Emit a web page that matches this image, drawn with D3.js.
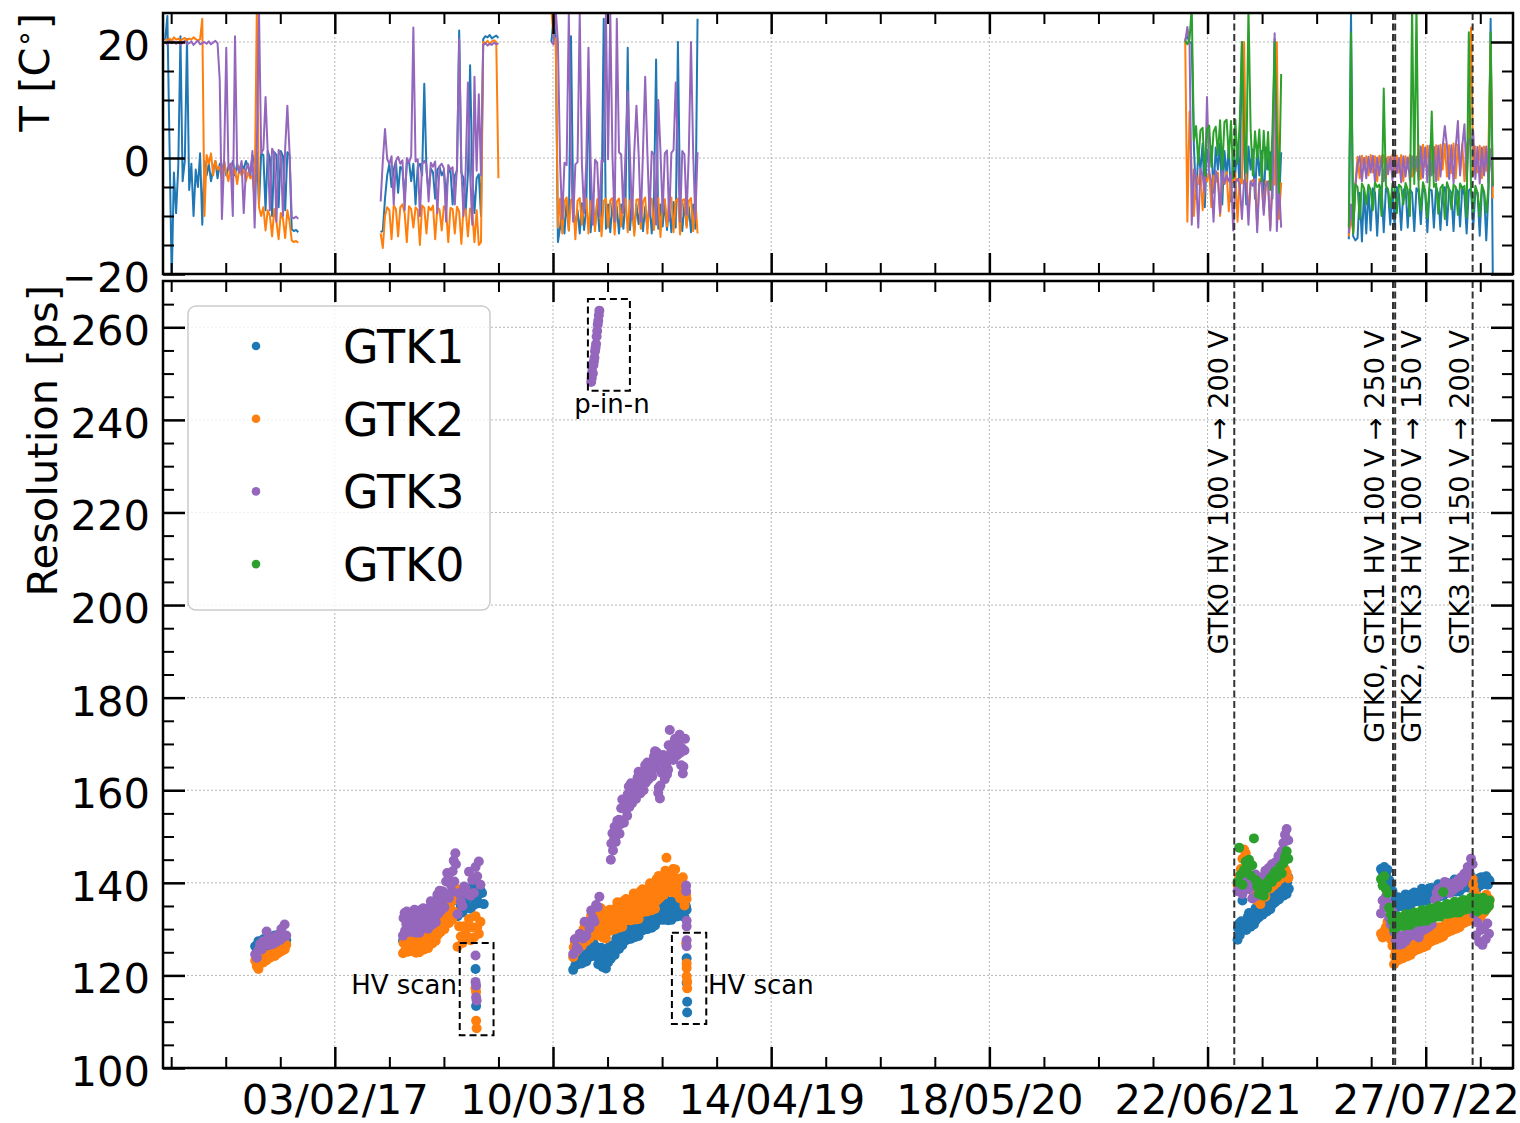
<!DOCTYPE html>
<html>
<head>
<meta charset="utf-8">
<script src="https://cdn.jsdelivr.net/npm/d3@7"></script>
<style>
  body { margin: 0; background: #fff; }
  svg { display: block; }
  text { font-family: "DejaVu Sans", sans-serif; fill: #000; }
</style>
</head>
<body>
<svg id="chart" width="1520" height="1123"></svg>
<script>
// ---------------------------------------------------------------------------
// Detectors and colours
// ---------------------------------------------------------------------------
const detectors = ["GTK1", "GTK2", "GTK3", "GTK0"];
const detectorColors = ["#1f77b4", "#ff7f0e", "#9467bd", "#2ca02c"];

// Axis ticks
const xTickDates = ["2017-02-03", "2018-03-10", "2019-04-14", "2020-05-18", "2021-06-22", "2022-07-27"];
const xTickLabels = ["03/02/17", "10/03/18", "14/04/19", "18/05/20", "22/06/21", "27/07/22"];
const tempTicks = [-20, 0, 20];
const resTicks = [100, 120, 140, 160, 180, 200, 220, 240, 260];

// ---------------------------------------------------------------------------
// Temperature logs [°C]: regularly sampled runs (start date, step in days)
// ---------------------------------------------------------------------------
const tempGTK1 = [
  { start: "2016-03-29", step: 4, values: [
    20.3, 24.5, 2, -21, -2.5, -9.5, -1.5, 21, -4, -0.5, 20.5, -5.5, -1, -10, -2,
    -5, 0.8, -11.5, -0.5, -3, -1, -4, -2, -0.5, -3.5, -1, -2.5, -0.5, -3, -1.5,
    -2, -0.5, -3, -1, -2.5, -1, -2, -0.5, -1.5, -3, 0.5, -1, 1, -8, 0.8,
    0.5, -9, 1.2, 0, -10, 1, 0.5, -8.5, 1.2, 0.3, -9, 1, 0.5, -12.3, -12.6, -12.4, -12.8] },
  { start: "2017-04-28", step: 4, values: [
    -12.8, -12.5, -7, -3, -1, -5, -2, -0.5, -6, -1.5, -2, -7, -1, -0.5, -4,
    -1, -8, -1.5, -1, -3, 12.8, -2, -6, -1.8, -2.5, -7, -2, -1.5, -3, -2.2,
    -6.5, -2.5, -2, -8, -3, -2.2, 22, -2.5, -3.5, -9, -2.8, 16, -3, -9.5, -3.5,
    -2.8, -10, 20.5, 21, 20.8, 21.2, 20.6, 20.9, 21.1, 20.7] },
  { start: "2018-03-07", step: 4, values: [
    20, 24, 21, -14.5,
    -12, -8, -13, -7.5, -12.5, 21, -8, -12, -9, -13,
    -7.8, -12.4, -8.5, 15, -12.8, -8, -11.8, -7.6, -12.6, -9,
    24, -12.2, -8, -12.8, -7.8, -11.6, -8.4, -13, -8, -12.2,
    -7.6, 19, -12.4, -8.2, -12.8, -8, -11.4, -7.8, -12.6, -8.4,
    -12, -7.6, -13, -8.2, 17, -12.2, -8, -11.8, -7.8, -12.4,
    -8.2, -12.8, -7.6, -12, 20, -8, -12.6, -7.8, -11.6, -8.4,
    -12.8, -8, -12.2, 24] },
  { start: "2021-05-12", step: 4, values: [
    20.5, 21, 19.8, 20, 2, -7, 1, -2, 2.5, -8.5, 1.5, -1, 2, -6, 1.8, -2,
    2.5, -8, 1.2, -3, 2, -7.5, 1.5, -2.5, 2.2, -6, 20, 1, -8, 2, -2,
    1.5, -7, 2, -3, 1.2, -8.5, 1.8, -2, 1, -7, 20.5, 1.5, -8, 1] },
  { start: "2022-03-08", step: 4, values: [
    -14, 25, -13.5, -14.2, -13.8, -6, -14.4, -5.5, -13, -5,
    -12.5, -5.2, -6, -13.4, -5.5, -4.8, -12.8, -5.2, -6, -11.5,
    -5.4, -11.8, -5, -6.2, -12.4, -5.6, -5, -12, -5.4, -6,
    -12.6, -5.2, -5.8, -11.4, -5, -6, -12.8, -5.4, -5.6, -12,
    -5, -6.2, -12.4, -5.6, -5, -11.6, -5.4, -6, -12.6, -5.2,
    -5.8, -11.8, -5, -6.4, -13, -5.6, -5.2, -12.2, -5.8, -6,
    -13.4, -5.4, -6, -14.2, -5.8, 24, -21] }
];

const tempGTK2 = [
  { start: "2016-03-29", step: 4, values: [
    20.5, 20.3, 20.6, 20.2, 20.8, 20.4, 20.6, 20.2, 20.5, 20.7, 20.3, 20.6, 20.4, 20.8, 20.5,
    20.2, 20.5, 24, -10, 0.5, -1, 0.8, -3, -0.5, -2, -1.5, -3.5, -0.5, -2.5, -4,
    -1, -3, -2, -4.5, -1.5, -3, -2, -4, -2.5, -3.5, -3, -7.5, 25.5, -8.5, -10,
    -8.5, -12.5, -9, -10, -13.5, -8.8, -11, -14, -9.5, -10.5, -13.8, -9, -11,
    -14.2, -14.5, -14.3, -14.6] },
  { start: "2017-04-28", step: 4, values: [
    -13, -15.5, -10, -8.5, -9, -14, -8.2, -8.8, -13.5, -8.5, -8, -9.5, -14.5, -8.3, -8.8,
    -12, -8.5, -9, -15, -8.2, -8.6, -13, -8.4, -9, -8.2, -14, -8.5, -8.9, -12.5, -8.3,
    -9, -14.5, -8.6, -8.8, -13, -8.4, -9.2, -14.8, -8.5, -9, -13.5, -8.7, -9.5, -14.5, -9,
    -15, -14.5, 20, 19.8, 20.2, 19.6, 20.1, 20.3, 20, -3.5] },
  { start: "2018-03-07", step: 4, values: [
    25.5, 21, 20.5, -12,
    -7, -13, -7.5, -6.8, -12.5, -7.2, -7, -14, -7.4, -6.9,
    -11.5, -7.3, -7, -13, -7.5, -7.1, -12.6, -7.2, -6.8, -13.5,
    -7.4, -7, -12, -7.3, -6.9, -13.2, -7.5, -7, -11.8, -7.2,
    -7, -12.8, -7.4, -6.9, -13.4, -7.2, -7.1, -12.2, -7.5, -6.8,
    -13, -7.3, -7, -12.4, -7.2, -6.9, -13.6, -7.4, -7.1, -11.8,
    -7.2, -6.8, -12.8, -7.4, -7, -13.2, -7.3, -7.1, -12, -7.4,
    -6.9, -12.6, -7.2, -13] },
  { start: "2021-05-12", step: 4, values: [
    20.5, -11, 8, -2.5, -10, -3, -4.5, -2, -9, -3.5, -4,
    -2.2, -8.5, -3, -4.2, -2.5, -10, -3.2, -4.4, -2.4, -9.2,
    -3.4, -4.2, -2.6, -11, -3.6, -4.4, 20, -3, -9.6, -4.2,
    -3.8, -4.6, -11.5, -3.6, -4.2, -9, -4, -4.8, -12, -3.8,
    -4.6, 20, -10.5, -4.2] },
  { start: "2022-03-08", step: 4, values: [
    -13.5, -10, -12.8, -4.5, 0.2, -3.5, 0.4, -2, 0.3, -3,
    0.5, -2.5, 0.3, -4, 0.4, -1.5, 0.5, -3.5, 0.2, -2,
    0.6, -3, 0.4, -2.5, 0.5, -4, 0.3, -1.8, 0.5, -3.2,
    0.4, -2.2, 2.2, -3.6, 2.3, -1.5, 2.1, -3, 2.4, -2.6,
    2.2, -3.8, 2.3, -2, 2.4, -3.2, 2.2, -2.6, 2.5, -3.5,
    2.3, -2.2, 2.4, -4, 2.2, 3.5, 22.5, -3, 2, -2.5,
    2.1, -3.5, 2, -2.2, 1.8, 20, -7] }
];

const tempGTK3 = [
  { start: "2016-03-29", step: 4, values: [
    20, 19.6, 20.2, 19.8, 20.1, 19.7, 20, 19.5, 19.9, 20.2, 19.6, 19.8, 20.1, 19.5, 19.9,
    20.2, 19.6, 19.8, 20, 19.7, 20.1, 19.6, 19.9, 20.2, 19.8, 13.5, -10.5, -0.5, 19, -2,
    -1, -10, 21, -1.5, -2.5, -0.5, -9.5, -2, -1, -3, 1.2, -12, 1.5, 25.5, 0.8,
    1.5, 10.5, 1, -9, 1.6, 0.8, -11, 1.4, 0.5, -10, 1.7, 9, 1,
    -10.2, -10.4, -10.1, -10.5] },
  { start: "2017-04-28", step: 4, values: [
    -7.5, -0.5, 5, -0.2, -1, 0.3, -8, -0.5, 0.2, -1, -0.4, -9, 0, -0.8, 0.4,
    22.5, -0.6, -0.2, -10, -1, -0.5, -1.2, -7.5, -0.8, -1.5, -0.6, -9.5, -1.4, -1, -1.8,
    -11, -1.2, -2, -1.6, -8, -1.4, 20.5, -2, -10, -1.8, 13, -2.5, -11.5, 14, -2.2,
    11, -3, 19.5, 19.8, 19.4, 19.7, 19.5, 19.9, 19.6, 19.8] },
  { start: "2018-03-07", step: 4, values: [
    20, 19.6, 25.5, 20,
    -1, -10.5, -0.8, -1.2, 25, -0.9, -11, -1.1, -0.7, 25,
    -1, -9.5, -0.6, 19, -0.5, -11.5, -0.3, -0.8, -10, -0.4,
    -0.6, 25, -0.2, 25, 0.3, -11, 24, 1, 0.6, -9.5,
    1.2, 11.5, 0.8, -10.5, 1, 9, 0.7, -11, 1.3, 14,
    0.9, -10, 1.1, 0.6, -11.5, 10, 1.2, -9.5, 0.8, 1.3,
    -10.8, 0.9, 1.4, 13, 0.7, -11, 1.2, 0.6, -9.8, 1,
    20, 0.8, -10.5, 1] },
  { start: "2021-05-12", step: 4, values: [
    20, 22.6, 19.8, -11.5, -2, -3.5, -12, -1.8, -3, -6,
    10.5, -2.5, -4, -11, -2.2, -3.8, -9.5, -2, -4.5, -3,
    -4, -2.8, -12.5, -4.2, -3.6, -4.6, -10.5, -3.8, -4.4, -11.5,
    -4, -4.8, -3.6, -12.8, -4.4, -3.8, -9.8, -4.6, -4, -12.5,
    -4.2, 21.5, -12.6, -4.4, -12] },
  { start: "2022-03-08", step: 4, values: [
    -13, -8, -12.5, -5, -1, 0.3, -4, 0, -3.5, 0.2,
    -2.5, 0.4, -4.2, 0.1, -3, 0.3, -4, 0, -2.8, 0.2,
    -3.8, 0.4, -2.6, 0, -4.2, 0.3, -3.2, 0.1, -4, 0.3,
    -2.8, 0.2, -3.8, 2, -3.4, 1.8, -4.2, 2.1, -3, 1.9,
    -4, 2.1, -3.2, 1.9, 5.5, 2, -3.6, 2.2, -4.4, 1.8,
    6.4, -3, 2.1, 5.8, -4, 3.3, 2.1, 4.7, -3.6, 1.9,
    -4.4, 1.8, -3, 2, -4.2, 1.5, -5] }
];

const tempGTK0 = [
  { start: "2021-05-12", step: 4, values: [
    20.2, 19.6, 20.5, 26, 3, 5.5, -1, 4.8, 5.2, -3,
    5, 5.6, -1.5, 4.5, 5.4, 0.5, 6.5, -2, 6.2, 6.6, 0,
    6.4, -3.5, 6.6, -1, 6.2, 20, 5, -2.5, 26,
    4.8, -3, 4.6, 0, 4.9, -4, 4.7, -2, 4.5, -5.5, 4.8,
    20, 4.5, -6, 14.5] },
  { start: "2022-03-08", step: 4, values: [
    -12, 21.5, -13, -4.5, -5, -10.5, -4.4, -5.2, -8, -4.6,
    -5.5, -9, -4.2, -5, -4.6, -10, 12, -4.8, -5.4, -8.5,
    -4.4, -5.2, -9.5, -4.6, -5, -8, -4.3, -5.5, -10, 26,
    -4.5, 26, -5, -9, -4.2, -5.6, -10.2, -4.6, 8, -5,
    -4.4, -9.6, -5.2, -4.6, -10.5, -4.2, -5.4, -8.8, -4.6, -5,
    -9.8, -4.4, -5.2, -4.8, -10.2, 21.7, -5.5, -9.2, -4.8, -6,
    -10, -4.6, -5.8, -9.4, -5, 21.7, -4.8] }
];

// ---------------------------------------------------------------------------
// Time resolution [ps]: regularly sampled runs (start date, step in days)
// ---------------------------------------------------------------------------
const resGTK1 = [
  { start: "2016-09-10", step: 3, values: [
    126.3, 125.2, 127.4, 125.8, 126.6, 127.8, 126.0, 127.2, 126.5, 128.2,
    126.8, 127.5, 128.6, 127.0, 128.0, 127.4, 128.8, 127.8, 128.4, 127.6] },
  { start: "2017-06-08", step: 3, values: [
    127.5, 129.0, 126.8, 128.3, 127.2, 129.4, 127.8, 128.6, 127.0, 129.2,
    128.0, 129.8, 127.6, 130.2, 128.6, 130.8, 129.2, 131.4, 130.0, 132.2,
    130.8, 133.0, 131.6, 134.2, 132.4, 135.0, 133.4, 136.2, 134.6, 137.4,
    136.0, 138.6, 137.4] },
  { start: "2017-09-16", step: 3, values: [
    132.8, 137.8, 135.0, 133.6, 137.2, 136.4, 134.8, 138.8, 134.4, 137.0,
    135.2, 139.2, 137.0, 135.6, 138.4, 137.8, 135.4] },
  { start: "2018-04-16", step: 3, values: [
    121.2, 124.8, 123.3, 122.4, 124.9, 124.5, 123.6, 126.6, 123.0, 125.2,
    124.0, 127.6, 125.6, 124.2, 126.2, 125.2, 123.6, 126.0, 121.8, 123.4,
    121.5, 125.6, 124.3, 123.6, 126.5, 126.4, 125.7, 129.0, 125.7, 128.0,
    126.5, 130.3, 128.7, 127.7, 130.3, 129.9, 128.9, 131.9, 128.3, 130.3,
    128.5, 132.8, 130.9, 129.8, 132.7, 132.2, 131.1, 134.4, 130.3, 132.6,
    130.8, 135.0, 133.2, 132.0, 134.8, 134.2, 133.0, 136.2, 131.9, 134.2,
    132.0, 136.1, 134.1, 132.7, 135.4, 134.9, 133.7, 136.9, 132.6, 134.8] },
  { start: "2018-04-17", step: 3, values: [
    123.9, 122.2, 125.2, 123.3, 124.1, 122.6, 125.6, 123.6, 125.3, 124.3,
    126.8, 124.4, 127.0, 124.4, 124.6, 122.4, 125.2, 122.6, 124.1, 122.8,
    124.3, 122.8, 126.3, 124.6, 125.7, 124.4, 127.9, 126.0, 128.1, 127.4,
    129.5, 127.5, 130.9, 128.8, 129.6, 127.9, 131.3, 129.0, 130.8, 129.8,
    131.6, 129.6, 133.2, 130.9, 131.8, 130.0, 133.5, 131.0, 133.0, 131.9,
    134.0, 131.9, 135.5, 133.1, 133.9, 132.0, 135.4, 132.8, 134.8, 133.6,
    135.2, 133.0, 136.5, 134.1, 134.8, 132.9, 136.2, 133.6, 135.4, 134.2] },
  { start: "2021-08-16", step: 3, values: [
    127.7, 131.2, 130.0, 136.2, 131.6, 131.5, 130.8, 133.5, 130.5, 132.5,
    131.0, 134.5, 133.3, 132.5, 134.9, 134.8, 134.1, 136.8, 133.8, 135.8,
    134.3, 137.8, 136.6, 135.8, 138.2, 138.1, 137.4, 140.1, 137.2, 139.1,
    137.6, 141.2] },
  { start: "2021-08-17", step: 3, values: [
    130.2, 128.7, 131.7, 130.1, 130.9, 129.8, 132.7, 130.9, 132.6, 131.9,
    133.5, 132.0, 135.0, 133.4, 134.2, 133.1, 136.0, 134.2, 135.9, 135.2,
    136.8, 135.3, 138.3, 136.7, 137.5, 136.4, 139.3, 137.5, 139.3, 138.5,
    140.1, 138.7] },
  { start: "2022-05-06", step: 3, values: [
    143.0, 142.4, 143.4, 141.8, 142.8, 140.6, 139.8, 138.2,
    134.2, 136.6, 135.6, 134.9, 136.6, 136.3, 135.6, 137.5,
    135.1, 136.4, 135.2, 137.6, 136.6, 136.0, 137.8, 137.4, 136.8, 138.7,
    136.1, 137.6, 136.2, 138.7, 137.6, 137.0, 138.8, 138.5, 137.8, 139.7,
    137.1, 138.6, 137.2, 139.7, 138.6, 138.0, 139.8, 139.5, 138.8, 140.7,
    138.1, 139.6, 138.2, 140.7, 139.6, 139.0, 140.8, 140.5, 139.8, 141.4,
    135.4, 138.2, 140.4, 139.2, 141.0, 139.6, 140.8, 139.8, 141.2, 140.2, 140.6] },
  { start: "2022-05-31", step: 3, values: [
    136.0, 134.8, 136.9, 135.5, 136.0, 135.0, 137.0, 135.6, 136.7, 136.0,
    137.0, 135.8, 137.9, 136.5, 137.0, 136.0, 138.0, 136.6, 137.7, 137.0,
    138.0, 136.8, 138.9, 137.5, 138.0, 137.0, 139.0, 137.6, 138.7, 138.0,
    139.0, 137.8, 139.9, 138.5, 139.0, 138.0, 140.0, 138.6, 139.7, 139.0,
    140.0, 138.8, 140.9, 139.5, 140.0, 139.0, 141.0, 139.6, 136.4, 139.8,
    138.6, 140.6, 139.4, 141.2, 139.8, 140.6, 141.4, 139.6, 140.4] }
];

const resGTK2 = [
  { start: "2016-09-10", step: 3, values: [
    123.2, 122.0, 121.4, 122.6, 123.5, 122.8, 124.0, 123.3, 124.4, 123.8,
    124.6, 125.0, 124.2, 125.3, 124.8, 125.8, 125.2, 126.2, 125.6, 126.6] },
  { start: "2017-06-08", step: 3, values: [
    124.8, 127.7, 126.3, 125.1, 127.2, 126.7, 125.8, 128.2, 124.9, 126.6,
    125.0, 128.4, 126.9, 125.6, 128.3, 127.9, 126.9, 130.4, 126.9, 129.2,
    127.5, 132.0, 130.4, 129.4, 132.7, 132.5, 131.6, 135.9, 131.3, 134.4,
    132.0, 137.9, 138.8] },
  { start: "2017-06-09", step: 3, values: [
    127.0, 125.4, 127.9, 126.2, 126.7, 125.3, 127.9, 125.9, 127.3, 126.3,
    127.8, 126.0, 128.9, 126.9, 127.5, 125.9, 129.3, 127.3, 129.4, 128.6,
    130.6, 128.8, 132.7, 130.6, 131.7, 130.0, 134.4, 131.9, 134.6, 133.5,
    136.2, 133.7, 138.7] },
  { start: "2017-09-16", step: 3, values: [
    126.2, 130.6, 128.4, 127.0, 130.6, 129.8, 128.4, 132.2, 127.6, 130.4,
    128.2, 132.8, 130.4, 129.0, 131.6] },
  { start: "2018-04-16", step: 3, values: [
    124.0, 127.3, 126.3, 125.7, 128.5, 128.4, 127.7, 131.2, 127.4, 130.0,
    128.0, 133.0, 130.5, 128.8, 132.1, 131.3, 129.7, 134.5, 128.2, 131.2,
    128.0, 133.7, 131.2, 129.7, 133.5, 132.9, 131.3, 135.8, 130.3, 133.3,
    130.5, 136.1, 133.5, 131.9, 135.7, 134.9, 133.3, 137.7, 132.1, 135.0,
    132.2, 138.1, 135.4, 133.7, 137.7, 137.0, 135.3, 139.9, 134.1, 137.2,
    134.4, 140.8, 138.2, 136.8, 141.1, 140.6, 139.1, 145.4, 138.3, 141.8,
    138.0, 143.0, 139.9, 137.7, 140.9, 139.6, 137.4, 141.2, 135.1, 137.4] },
  { start: "2018-04-17", step: 3, values: [
    126.1, 125.0, 128.0, 126.6, 127.7, 126.4, 130.0, 127.9, 130.2, 129.3,
    131.9, 129.1, 133.2, 130.2, 131.0, 128.6, 132.7, 129.4, 131.6, 129.9,
    132.2, 129.5, 134.2, 131.2, 132.3, 129.9, 134.6, 131.3, 133.9, 132.4,
    134.7, 131.9, 136.5, 133.4, 134.5, 131.9, 136.6, 133.2, 135.7, 134.1,
    136.6, 133.7, 138.6, 135.3, 136.5, 133.8, 138.8, 135.2, 137.9, 136.2,
    139.0, 136.2, 141.5, 138.4, 139.8, 137.4, 142.6, 139.2, 142.2, 140.8,
    142.2, 138.8, 142.9, 139.2, 139.7, 136.6, 140.7, 136.7, 138.7, 136.5] },
  { start: "2021-08-16", step: 3, values: [
    139.6, 141.4, 143.0, 145.2, 147.2, 146.4, 142.4, 140.2, 138.6, 140.0,
    137.8, 139.4, 136.2, 138.8, 135.4, 137.6, 139.2, 137.0, 138.6, 140.2,
    138.8, 140.6, 139.4, 141.4, 140.0, 142.0, 140.8, 142.4, 141.6, 143.0,
    142.2, 141.0] },
  { start: "2022-05-06", step: 3, values: [
    129.0, 128.2, 129.6, 130.4, 131.6, 129.2, 127.8, 126.4,
    122.4, 125.0, 124.0, 123.4, 125.2, 125.0, 124.4, 126.4,
    124.1, 125.5, 124.4, 126.9, 126.0, 125.4, 127.2, 127.0, 126.4, 128.4,
    126.1, 127.5, 126.4, 128.9, 128.0, 127.4, 129.2, 129.0, 128.4, 130.4,
    128.1, 129.5, 128.4, 130.9, 130.0, 129.4, 131.2, 131.0, 130.4, 132.4,
    130.1, 131.5, 130.4, 132.9, 132.0, 131.4, 133.2, 133.0, 132.4, 134.4,
    140.8, 138.2, 133.0, 136.4, 134.2, 132.6, 135.4, 133.6, 136.8, 134.6, 135.8] },
  { start: "2022-05-31", step: 3, values: [
    124.2, 123.1, 125.3, 124.0, 124.6, 123.7, 125.8, 124.5, 125.7, 125.1,
    126.2, 125.1, 127.3, 126.0, 126.6, 125.7, 127.8, 126.5, 127.7, 127.1,
    128.2, 127.1, 129.3, 128.0, 128.6, 127.7, 129.8, 128.5, 129.7, 129.1,
    130.2, 129.1, 131.3, 130.0, 130.6, 129.7, 131.8, 130.5, 131.7, 131.1,
    132.2, 131.1, 133.3, 132.0, 132.6, 131.7, 133.8, 132.5, 139.6, 135.2,
    132.8, 137.0, 134.8, 133.2, 136.0, 134.2, 137.4, 135.2, 136.4] }
];

const resGTK3 = [
  { start: "2016-09-10", step: 3, values: [
    124.5, 123.8, 125.5, 126.8, 125.6, 127.4, 126.5, 129.5, 127.8, 126.6,
    127.6, 126.8, 128.3, 127.2, 128.8, 127.6, 130.0, 128.2, 131.0, 128.6] },
  { start: "2017-06-08", step: 3, values: [
    128.6, 133.5, 131.1, 129.4, 132.8, 132.0, 130.4, 134.2, 129.2, 131.9,
    129.2, 134.2, 131.8, 130.2, 133.6, 133.1, 131.6, 136.0, 131.0, 134.0,
    131.5, 137.4, 135.2, 133.9, 138.2, 137.9, 136.8, 142.1, 136.7, 140.4,
    138.0, 144.8, 146.4] },
  { start: "2017-06-09", step: 3, values: [
    132.4, 129.7, 133.8, 130.9, 131.8, 129.4, 133.6, 130.4, 132.6, 131.0,
    133.1, 130.3, 134.5, 131.6, 132.4, 130.1, 134.7, 131.7, 134.4, 133.1,
    135.7, 133.2, 138.3, 135.5, 136.9, 134.7, 140.3, 137.2, 140.6, 139.5,
    142.5, 140.3, 144.0] },
  { start: "2017-09-16", step: 3, values: [
    133.2, 137.8, 136.0, 135.0, 139.2, 138.8, 137.6, 142.4, 137.2, 140.6,
    137.8, 143.4, 141.4, 144.6, 139.6] },
  { start: "2018-04-16", step: 3, values: [
    124.6, 127.8, 126.0, 125.6, 129.0, 128.6, 128.0, 131.6, 128.6, 131.4,
    130.2, 134.0, 132.4, 131.6, 135.2, 134.8, 137.0] },
  // p-in-n sensor
  { start: "2018-05-19", step: 1, values: [
    248.2, 249.0, 250.4, 250.0, 251.8, 252.6, 253.4, 254.8, 255.6, 256.4,
    258.0, 259.2, 260.6, 261.4, 262.6, 263.6] },
  { start: "2018-06-24", step: 3, values: [
    145.0, 150.7, 149.4, 148.8, 153.4, 153.6, 152.7, 158.0, 153.0, 156.8,
    154.5, 160.8, 158.4, 157.2, 161.2, 160.8, 159.7, 164.0, 159.3, 162.3,
    160.0, 165.4, 163.4, 162.3, 165.8, 165.5, 164.5, 168.4, 168.2, 159.4,
    158.2, 163.8, 167.6, 162.4, 165.2, 164.4, 173.0, 168.4, 166.6, 170.8,
    169.6, 167.8, 172.0, 165.4, 163.6, 168.6] },
  { start: "2018-06-25", step: 3, values: [
    148.5, 147.0, 152.1, 150.2, 152.2, 150.6, 156.1, 153.4, 156.8, 155.8,
    159.1, 156.4, 161.5, 158.7, 160.0, 158.1, 162.7, 159.9, 162.6, 161.4,
    163.9, 161.6, 166.0, 163.6, 164.8, 163.0, 167.3, 164.8, 166.5, 160.6,
    161.0, 165.9, 164.1, 166.2, 163.4, 169.7, 167.4, 168.9, 166.6, 171.1,
    167.5, 169.9, 168.1, 169.1, 165.1, 171.1] },
  { start: "2021-08-16", step: 3, values: [
    138.2, 140.4, 139.0, 137.6, 141.6, 139.8, 142.4, 138.6, 140.8, 136.6,
    139.4, 141.8, 137.2, 140.2, 138.4, 141.2, 139.6, 142.6, 140.8, 143.2,
    141.8, 144.0, 142.6, 144.4, 143.6, 145.8, 144.2, 146.8, 148.6, 150.4,
    151.6, 149.2] },
  { start: "2022-05-06", step: 3, values: [
    133.4, 136.2, 134.8, 137.0, 135.6, 132.4, 131.0, 133.8,
    129.4, 127.6, 128.8, 126.6, 128.2, 126.8, 128.6, 127.4,
    128.0, 129.4, 128.6, 130.2, 129.0, 130.6, 129.4, 128.2, 130.8, 129.6,
    131.0, 130.0, 131.4, 130.4, 132.0, 131.0, 133.6, 136.4, 137.8, 138.6,
    137.4, 139.0, 138.2, 140.2, 138.6, 139.8, 137.8, 139.6, 138.4, 140.0,
    139.0, 140.6, 139.4, 141.2, 140.0, 142.0, 141.2, 143.4, 142.4, 145.2,
    144.0, 133.2, 128.6, 131.4, 127.2, 129.8, 126.6, 130.4, 127.8, 131.2, 129.0] }
];

const resGTK0 = [
  { start: "2021-08-16", step: 3, values: [
    140.2, 147.6, 141.8, 139.6, 142.8, 144.6, 143.2, 145.0, 141.6, 143.8,
    149.6, 140.6, 139.2, 137.6, 139.8, 138.4, 137.2, 139.6, 138.8, 140.4,
    141.0, 140.2, 141.8, 142.4, 141.2, 142.6, 143.4, 142.0, 144.2, 145.6,
    146.8, 145.2] },
  { start: "2022-05-06", step: 3, values: [
    140.8, 139.4, 141.4, 138.6, 137.8, 134.6, 133.2, 131.8,
    130.0, 132.4, 131.4, 130.7, 132.3, 132.0, 131.3, 133.2,
    130.9, 132.1, 130.9, 133.3, 132.2, 131.6, 133.2, 132.9, 132.2, 134.1,
    131.8, 133.1, 131.8, 134.2, 133.0, 132.4, 134.1, 133.8, 133.1, 135.0,
    132.7, 133.9, 138.0, 135.0, 134.0, 133.3, 135.0, 134.7, 134.0, 135.9,
    133.6, 134.9, 133.6, 136.0, 134.9, 134.2, 135.9, 135.6, 134.9, 136.8,
    134.6, 136.2, 135.0, 133.8, 135.8, 134.4, 136.4, 135.2, 134.2, 136.0, 135.0] },
  { start: "2022-05-31", step: 3, values: [
    131.8, 130.6, 132.7, 131.3, 131.8, 130.7, 132.7, 131.3, 132.4, 131.7,
    132.7, 131.5, 133.6, 132.2, 132.7, 131.6, 133.7, 132.1, 133.3, 132.6,
    133.6, 132.4, 134.5, 133.1, 133.6, 132.6, 134.6, 133.1, 134.2, 133.5,
    134.5, 133.3, 135.4, 134.0, 134.5, 133.5, 135.5, 134.0, 135.1, 134.4,
    135.4, 134.2, 136.3, 134.9, 135.4, 134.4, 136.4, 134.9, 135.8, 134.6,
    136.6, 135.2, 135.8, 134.8, 136.8, 135.2, 136.0, 135.0, 136.2] }
];

// Single measurements: HV scans and end-of-run points [date, ps]
const scanGTK1 = [["2017-10-19", 121.4], ["2017-10-20", 113.4],
  ["2018-11-10", 123.7], ["2018-11-10", 118.4], ["2018-11-11", 114.3], ["2018-11-11", 112.0]];
const scanGTK2 = [["2017-10-19", 117.2], ["2017-10-20", 116.4], ["2017-10-20", 110.2], ["2017-10-21", 108.6],
  ["2018-11-09", 126.9], ["2018-11-10", 122.6], ["2018-11-10", 121.6], ["2018-11-10", 119.8],
  ["2018-11-11", 118.6], ["2018-11-11", 117.2]];
const scanGTK3 = [["2017-10-19", 124.3], ["2017-10-19", 118.6], ["2017-10-20", 117.8], ["2017-10-20", 115.3],
  ["2017-10-21", 114.6], ["2018-11-09", 139.4], ["2018-11-09", 138.2], ["2018-11-10", 131.8],
  ["2018-11-10", 130.6], ["2018-11-10", 127.6], ["2018-11-10", 126.3]];
const scanGTK0 = [];

// HV changes
const hvChangeDates = ["2021-08-10", "2022-05-28", "2022-06-01", "2022-10-21"];
const hvLabelDates = ["2021-07-30", "2022-05-12", "2022-07-18", "2022-10-14"];
const hvLabelTexts = ["GTK0 HV 100 V \u2192 200 V", "GTK0, GTK1 HV 100 V \u2192 250 V",
                      "GTK2, GTK3 HV 100 V \u2192 150 V", "GTK3 HV 150 V \u2192 200 V"];
const hvLabelTop = 259.4;

// Highlighted groups
const boxStart = ["2017-09-20", "2018-10-14", "2018-05-13"];
const boxEnd = ["2017-11-21", "2018-12-16", "2018-07-29"];
const boxLow = [107.1, 109.5, 246.3];
const boxHigh = [127.0, 129.2, 266.1];
const boxText = ["HV scan", "HV scan", "p-in-n"];
const boxTextDate = ["2017-09-15", "2018-12-19", "2018-06-26"];
const boxTextValue = [115.9, 115.9, 241.5];
const boxTextAnchor = ["end", "start", "middle"];

// ---------------------------------------------------------------------------
// Layout and scales
// ---------------------------------------------------------------------------
const parse = d3.utcParse("%Y-%m-%d");
const plotLeft = 163, plotRight = 1513;
const tTop = 13, tBottom = 274;
const rTop = 281, rBottom = 1068;

const x = d3.scaleUtc().domain([parse("2016-03-25"), parse("2023-01-03")]).range([plotLeft, plotRight]);
const yT = d3.scaleLinear().domain([-20, 25]).range([tBottom, tTop]);
const yR = d3.scaleLinear().domain([100, 270]).range([rBottom, rTop]);

const majorDates = xTickDates.map(parse);
const minorDates = d3.range(-4, 22).map(k => d3.utcDay.offset(majorDates[0], k * 100))
  .filter(d => d >= x.domain()[0] && d <= x.domain()[1])
  .filter(d => !majorDates.some(m => +m === +d));

const svg = d3.select("#chart");
svg.append("rect").attr("width", 1520).attr("height", 1123).attr("fill", "#fff");

const defs = svg.append("defs");
defs.append("clipPath").attr("id", "clipT").append("rect")
  .attr("x", plotLeft).attr("y", tTop).attr("width", plotRight - plotLeft).attr("height", tBottom - tTop);
defs.append("clipPath").attr("id", "clipR").append("rect")
  .attr("x", plotLeft).attr("y", rTop).attr("width", plotRight - plotLeft).attr("height", rBottom - rTop);

function expand(runs) {
  return runs.map(r => r.values.map((v, i) => ({ date: d3.utcDay.offset(parse(r.start), i * r.step), value: v })));
}

// ---------------------------------------------------------------------------
// Grids
// ---------------------------------------------------------------------------
function grid(y0, y1, yScale, yVals) {
  const g = svg.append("g").attr("stroke", "#b0b0b0").attr("stroke-width", 0.9)
    .attr("stroke-dasharray", "2,2");
  majorDates.forEach(d => g.append("line").attr("x1", x(d)).attr("x2", x(d)).attr("y1", y0).attr("y2", y1));
  yVals.forEach(v => g.append("line").attr("x1", plotLeft).attr("x2", plotRight)
    .attr("y1", yScale(v)).attr("y2", yScale(v)));
}
grid(tTop, tBottom, yT, tempTicks);
grid(rTop, rBottom, yR, resTicks);

// ---------------------------------------------------------------------------
// Temperature lines
// ---------------------------------------------------------------------------
const tempSeries = [tempGTK1, tempGTK2, tempGTK3, tempGTK0];
const tLine = d3.line().x(d => x(d.date)).y(d => yT(d.value));
const gT = svg.append("g").attr("clip-path", "url(#clipT)");
tempSeries.forEach((runs, k) => {
  expand(runs).forEach(pts => {
    gT.append("path").attr("d", tLine(pts)).attr("fill", "none")
      .attr("stroke", detectorColors[k]).attr("stroke-width", 2)
      .attr("stroke-linejoin", "round");
  });
});

// ---------------------------------------------------------------------------
// Resolution scatter
// ---------------------------------------------------------------------------
const resSeries = [resGTK1, resGTK2, resGTK3, resGTK0];
const scanSeries = [scanGTK1, scanGTK2, scanGTK3, scanGTK0];
const gR = svg.append("g").attr("clip-path", "url(#clipR)");
resSeries.forEach((runs, k) => {
  const pts = expand(runs).flat()
    .concat(scanSeries[k].map(([d, v]) => ({ date: parse(d), value: v })));
  gR.append("g").selectAll("circle").data(pts).join("circle")
    .attr("cx", d => x(d.date)).attr("cy", d => yR(d.value)).attr("r", 5)
    .attr("fill", detectorColors[k]);
});

// ---------------------------------------------------------------------------
// HV change markers
// ---------------------------------------------------------------------------
hvChangeDates.forEach(d => {
  [[tTop, tBottom], [rTop, rBottom]].forEach(([a, b]) => {
    svg.append("line").attr("x1", x(parse(d))).attr("x2", x(parse(d)))
      .attr("y1", a).attr("y2", b)
      .attr("stroke", "#333").attr("stroke-width", 2).attr("stroke-dasharray", "7,3.5");
  });
});
hvLabelTexts.forEach((t, i) => {
  const px = x(parse(hvLabelDates[i])), py = yR(hvLabelTop);
  svg.append("text").attr("transform", `translate(${px},${py}) rotate(-90)`)
    .attr("text-anchor", "end").attr("font-size", 27).text(t);
});

// Dashed boxes with captions
boxText.forEach((t, i) => {
  const x0 = x(parse(boxStart[i])), x1 = x(parse(boxEnd[i]));
  const y0 = yR(boxHigh[i]), y1 = yR(boxLow[i]);
  svg.append("rect").attr("x", x0).attr("y", y0).attr("width", x1 - x0).attr("height", y1 - y0)
    .attr("fill", "none").attr("stroke", "#000").attr("stroke-width", 2).attr("stroke-dasharray", "7,4");
  svg.append("text").attr("x", x(parse(boxTextDate[i]))).attr("y", yR(boxTextValue[i]))
    .attr("text-anchor", boxTextAnchor[i]).attr("font-size", 26).text(t);
});

// ---------------------------------------------------------------------------
// Axes (ticks pointing inward on all four sides)
// ---------------------------------------------------------------------------
function styleAxis(g, width) {
  g.select(".domain").remove();
  g.selectAll(".tick line").attr("stroke", "#000").attr("stroke-width", width);
  g.selectAll(".tick text").attr("font-family", "DejaVu Sans").attr("fill", "#000");
}
function panelAxes(y0, y1, yScale, yMajor, yMinor, withXLabels) {
  // bottom
  let g = svg.append("g").attr("transform", `translate(0,${y1})`)
    .call(d3.axisBottom(x).tickValues(majorDates)
      .tickFormat((d, i) => withXLabels ? xTickLabels[i] : "").tickSize(-21).tickPadding(16.5));
  styleAxis(g, 2.5);
  g.selectAll(".tick text").attr("font-size", 41.67);
  g = svg.append("g").attr("transform", `translate(0,${y1})`)
    .call(d3.axisBottom(x).tickValues(minorDates).tickFormat("").tickSize(-11));
  styleAxis(g, 2);
  // top
  g = svg.append("g").attr("transform", `translate(0,${y0})`)
    .call(d3.axisTop(x).tickValues(majorDates).tickFormat("").tickSize(-21));
  styleAxis(g, 2.5);
  g = svg.append("g").attr("transform", `translate(0,${y0})`)
    .call(d3.axisTop(x).tickValues(minorDates).tickFormat("").tickSize(-11));
  styleAxis(g, 2);
  // left
  g = svg.append("g").attr("transform", `translate(${plotLeft},0)`)
    .call(d3.axisLeft(yScale).tickValues(yMajor)
      .tickFormat(v => (v < 0 ? "\u2212" : "") + Math.abs(v)).tickSize(-22).tickPadding(13));
  styleAxis(g, 2.5);
  g.selectAll(".tick text").attr("font-size", 41.67).attr("dy", "0.42em");
  g = svg.append("g").attr("transform", `translate(${plotLeft},0)`)
    .call(d3.axisLeft(yScale).tickValues(yMinor).tickFormat("").tickSize(-11));
  styleAxis(g, 2);
  // right
  g = svg.append("g").attr("transform", `translate(${plotRight},0)`)
    .call(d3.axisRight(yScale).tickValues(yMajor).tickFormat("").tickSize(-22));
  styleAxis(g, 2.5);
  g = svg.append("g").attr("transform", `translate(${plotRight},0)`)
    .call(d3.axisRight(yScale).tickValues(yMinor).tickFormat("").tickSize(-11));
  styleAxis(g, 2);
  // frame
  svg.append("rect").attr("x", plotLeft).attr("y", y0)
    .attr("width", plotRight - plotLeft).attr("height", y1 - y0)
    .attr("fill", "none").attr("stroke", "#000").attr("stroke-width", 2.5);
}
const tMinor = d3.range(-15, 25, 5).filter(v => !tempTicks.includes(v));
const rMinor = d3.range(105, 270, 5).filter(v => !resTicks.includes(v));
panelAxes(tTop, tBottom, yT, tempTicks, tMinor, false);
panelAxes(rTop, rBottom, yR, resTicks, rMinor, true);

// Axis titles
const tTitle = svg.append("text").attr("transform", `translate(49,${tTop}) rotate(-90)`)
  .attr("text-anchor", "end").attr("font-size", 41.67);
tTitle.append("tspan").text("T [C");
tTitle.append("tspan").attr("font-size", 29).attr("dy", -15).text("\u2218");
tTitle.append("tspan").attr("dy", 15).text("]");
svg.append("text").attr("transform", `translate(57,${rTop + 4}) rotate(-90)`)
  .attr("text-anchor", "end").attr("font-size", 41.67).text("Resolution [ps]");

// ---------------------------------------------------------------------------
// Legend
// ---------------------------------------------------------------------------
const legend = svg.append("g");
legend.append("rect").attr("x", 188).attr("y", 306).attr("width", 302).attr("height", 304)
  .attr("rx", 8).attr("fill", "#fff").attr("fill-opacity", 0.8)
  .attr("stroke", "#cccccc").attr("stroke-width", 1.5);
detectors.forEach((name, i) => {
  const cy = 346 + i * 72.7;
  legend.append("circle").attr("cx", 256).attr("cy", cy).attr("r", 4.3).attr("fill", detectorColors[i]);
  legend.append("text").attr("x", 343).attr("y", cy + 17).attr("font-size", 46).text(name);
});
</script>
</body>
</html>
